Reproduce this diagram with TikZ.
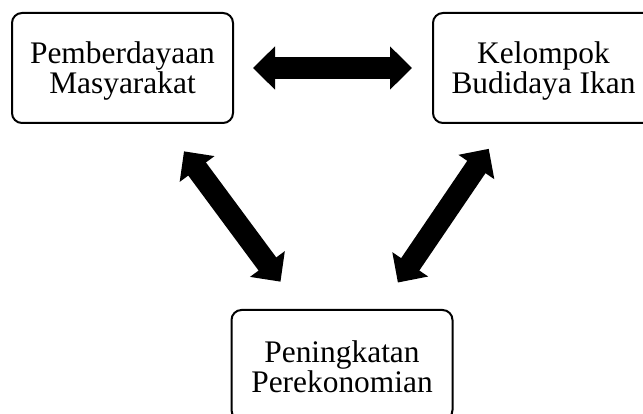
\documentclass[tikz,border=0pt]{standalone}
\usepackage{fontspec}
\setmainfont{Liberation Serif}
\usetikzlibrary{arrows.meta}
\begin{document}
\begin{tikzpicture}[x=1pt,y=-1pt,
  box/.style={draw=black, line width=2pt, rounded corners=10pt, minimum width=221pt, minimum height=110pt, inner sep=0pt},
  boxtext/.style={align=center, inner sep=0pt, font=\fontsize{31.4}{30.5}\selectfont},
  blockarrow/.style={line width=22pt, {Triangle[length=22pt,width=42pt]}-{Triangle[length=22pt,width=42pt]}}]
\useasboundingbox (0,0) rectangle (643,414);
\node[box] (pm) at (122.5,68) {};
\node[box] (kb) at (543.5,68) {};
\node[box] (pp) at (342,365) {};
\node[boxtext] (pmt) at ([yshift=-3pt]pm.center) {Pemberdayaan\\Masyarakat};
\node[boxtext] (kbt) at ([yshift=-3pt]kb.center) {Kelompok\\Budidaya Ikan};
\node[boxtext] (ppt) at ([yshift=-2pt]pp.center) {Peningkatan\\Perekonomian};
\draw[blockarrow, shorten <=19pt, shorten >=20pt] (pm) -- (kb);
\draw[blockarrow, shorten <=34pt, shorten >=34pt] (pm) -- (pp);
\draw[blockarrow, shorten <=30pt, shorten >=32pt] (kb) -- (pp);
\end{tikzpicture}
\end{document}
